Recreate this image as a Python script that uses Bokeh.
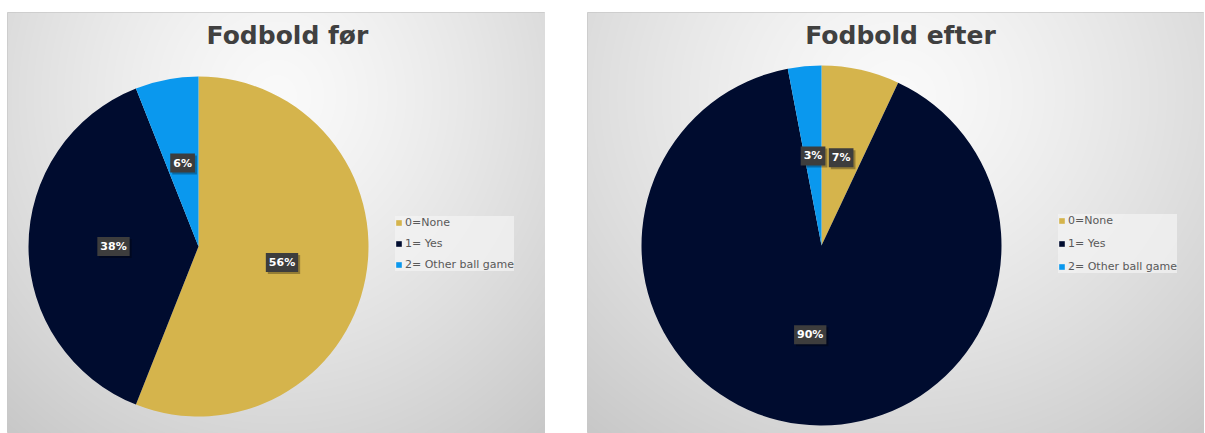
import numpy as np
from bokeh.plotting import figure
from bokeh.layouts import row, column
from bokeh.models import Legend, LegendItem, ColumnDataSource, Spacer, Range1d
from bokeh.core.properties import value
from bokeh.embed import file_html
from bokeh.resources import INLINE

# ---- data ----
categories = ["0=None", "1= Yes", "2= Other ball game"]
colors = ["#D5B44C", "#000C2F", "#0A98EE"]
before_values = [56, 38, 6]
after_values = [7, 90, 3]
titles = ["Fodbold før", "Fodbold efter"]


def gradient(w, h):
    ys, xs = np.mgrid[0:h, 0:w].astype(float)
    cx, cy = w * 0.5, h * 0.8
    d = np.sqrt(((xs - cx) / (w * 0.7)) ** 2 + ((ys - cy) / (h * 0.95)) ** 2)
    v = np.clip(250 - 44 * d ** 1.3, 198, 250).astype(np.uint8)
    img = np.empty((h, w), dtype=np.uint32)
    view = img.view(dtype=np.uint8).reshape((h, w, 4))
    view[:, :, 0] = v
    view[:, :, 1] = v
    view[:, :, 2] = v
    view[:, :, 3] = 255
    return img


def make_panel(values, title, fw, fh, cx, cy, r, tx, ty, leg_x, leg_y, leg_spacing):
    p = figure(width=fw, height=fh + 4, x_range=Range1d(0, fw), y_range=Range1d(0, fh),
               output_backend="svg", toolbar_location=None,
               min_border=0, min_border_top=4, min_border_left=0, min_border_right=0,
               min_border_bottom=0)
    p.axis.visible = False
    p.grid.visible = False
    p.outline_line_color = "#c9c9c9"
    p.border_fill_color = "white"
    p.background_fill_color = "#eeeeee"

    p.image_rgba(image=[gradient(fw, fh)], x=0, y=0, dw=fw, dh=fh)

    total = float(sum(values))
    fr = np.array(values) / total
    cum = np.concatenate([[0.0], np.cumsum(fr)])
    start = np.pi / 2 - cum[:-1] * 2 * np.pi
    end = np.pi / 2 - cum[1:] * 2 * np.pi
    mid = (start + end) / 2
    lx = cx + 0.5 * r * np.cos(mid)
    ly = cy + 0.5 * r * np.sin(mid)
    labels = [f"{v}%" for v in values]
    src = ColumnDataSource(dict(start=start, end=end, color=colors, cat=categories,
                                lx=lx, ly=ly, label=labels))

    wedges = p.wedge(x=cx, y=cy, radius=r, start_angle="start", end_angle="end",
                     direction="clock", fill_color="color", line_color=None, source=src)

    # label shadow
    p.text(x="lx", y="ly", text="label", source=src, x_offset=2, y_offset=2,
           text_alpha=0, text_font=value("DejaVu Sans"), text_font_style="bold",
           text_font_size="11px", text_align="center", text_baseline="middle",
           background_fill_color="black", background_fill_alpha=0.3, padding=3)
    p.text(x="lx", y="ly", text="label", source=src,
           text_color="white", text_font=value("DejaVu Sans"), text_font_style="bold",
           text_font_size="11px", text_align="center", text_baseline="middle",
           background_fill_color="#3d3d3d", padding=3)

    p.text(x=[tx], y=[ty], text=[title], text_color="#404040",
           text_font=value("DejaVu Sans"), text_font_style="bold",
           text_font_size="25px", text_align="center", text_baseline="middle")

    items = [LegendItem(label=c, renderers=[wedges], index=i) for i, c in enumerate(categories)]
    legend = Legend(items=items, location=(leg_x, leg_y), orientation="vertical",
                    label_text_font_size="11px", label_text_color="#595959",
                    label_text_font="DejaVu Sans",
                    glyph_width=7, glyph_height=7, label_height=12,
                    spacing=leg_spacing - 12, padding=10, margin=0, label_standoff=3,
                    background_fill_color="#f4f4f4", background_fill_alpha=0.7,
                    border_line_color=None)
    p.add_layout(legend)
    return p


p1 = make_panel(before_values, titles[0], 538, 421, 191, 187, 170, 280, 398, 388, 162, 20)
p2 = make_panel(after_values, titles[1], 617, 421, 234, 188, 180, 313, 398, 471, 160, 22)

layout = column(Spacer(width=10, height=8),
                row(Spacer(width=7, height=425), p1, Spacer(width=42, height=425), p2))
open("out.html", "w").write(file_html(layout, INLINE))
